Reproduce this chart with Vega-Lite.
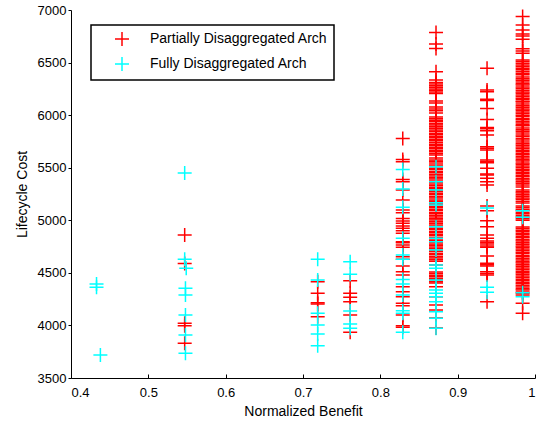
{
  "$schema": "https://vega.github.io/schema/vega-lite/v6.json",
  "width": 464,
  "height": 368,
  "autosize": "none",
  "padding": {"left": 71, "top": 10, "right": 9, "bottom": 43},
  "background": "white",
  "config": {
    "view": {"stroke": null},
    "font": "Liberation Sans",
    "legend": {"strokeWidth": 1.5},
    "axis": {
      "grid": false,
      "domainColor": "#000000",
      "domainWidth": 1,
      "tickColor": "#000000",
      "labelColor": "#000000",
      "titleColor": "#000000",
      "labelFont": "Liberation Sans",
      "titleFont": "Liberation Sans",
      "labelFontSize": 13,
      "titleFontSize": 14,
      "titleFontWeight": "normal"
    }
  },
  "layer": [
    {
      "data": {"values": [
        {"benefit": 0.547, "cost": 4860}, {"benefit": 0.547, "cost": 4590}, {"benefit": 0.547, "cost": 4020}, {"benefit": 0.547, "cost": 3998}, {"benefit": 0.547, "cost": 3830},
        {"benefit": 0.719, "cost": 4415}, {"benefit": 0.719, "cost": 4305}, {"benefit": 0.719, "cost": 4215}, {"benefit": 0.719, "cost": 4204}, {"benefit": 0.719, "cost": 4083},
        {"benefit": 0.761, "cost": 4425}, {"benefit": 0.761, "cost": 4305}, {"benefit": 0.761, "cost": 4267}, {"benefit": 0.761, "cost": 4226}, {"benefit": 0.761, "cost": 4099}, {"benefit": 0.761, "cost": 3934},
        {"benefit": 0.829, "cost": 5779}, {"benefit": 0.829, "cost": 5579}, {"benefit": 0.829, "cost": 5557}, {"benefit": 0.829, "cost": 5389}, {"benefit": 0.829, "cost": 5367}, {"benefit": 0.829, "cost": 5287}, {"benefit": 0.829, "cost": 5193}, {"benefit": 0.829, "cost": 5098}, {"benefit": 0.829, "cost": 5072}, {"benefit": 0.829, "cost": 5016}, {"benefit": 0.829, "cost": 4994}, {"benefit": 0.829, "cost": 4972}, {"benefit": 0.829, "cost": 4946}, {"benefit": 0.829, "cost": 4924}, {"benefit": 0.829, "cost": 4901}, {"benefit": 0.829, "cost": 4876}, {"benefit": 0.829, "cost": 4797}, {"benefit": 0.829, "cost": 4787}, {"benefit": 0.829, "cost": 4765}, {"benefit": 0.829, "cost": 4743}, {"benefit": 0.829, "cost": 4654}, {"benefit": 0.829, "cost": 4629}, {"benefit": 0.829, "cost": 4565}, {"benefit": 0.829, "cost": 4511}, {"benefit": 0.829, "cost": 4480}, {"benefit": 0.829, "cost": 4368}, {"benefit": 0.829, "cost": 4320}, {"benefit": 0.829, "cost": 4273}, {"benefit": 0.829, "cost": 4210}, {"benefit": 0.829, "cost": 4187}, {"benefit": 0.829, "cost": 4099}, {"benefit": 0.829, "cost": 3997}, {"benefit": 0.829, "cost": 3982},
        {"benefit": 0.872, "cost": 6787}, {"benefit": 0.872, "cost": 6676}, {"benefit": 0.872, "cost": 6635}, {"benefit": 0.872, "cost": 6413}, {"benefit": 0.872, "cost": 6334}, {"benefit": 0.872, "cost": 6311}, {"benefit": 0.872, "cost": 6296}, {"benefit": 0.872, "cost": 6279}, {"benefit": 0.872, "cost": 6266}, {"benefit": 0.872, "cost": 6248}, {"benefit": 0.872, "cost": 6236}, {"benefit": 0.872, "cost": 6219}, {"benefit": 0.872, "cost": 6207}, {"benefit": 0.872, "cost": 6134}, {"benefit": 0.872, "cost": 6115}, {"benefit": 0.872, "cost": 6077}, {"benefit": 0.872, "cost": 6058}, {"benefit": 0.872, "cost": 6041}, {"benefit": 0.872, "cost": 6020}, {"benefit": 0.872, "cost": 5983}, {"benefit": 0.872, "cost": 5966}, {"benefit": 0.872, "cost": 5951}, {"benefit": 0.872, "cost": 5937}, {"benefit": 0.872, "cost": 5919}, {"benefit": 0.872, "cost": 5906}, {"benefit": 0.872, "cost": 5889}, {"benefit": 0.872, "cost": 5876}, {"benefit": 0.872, "cost": 5858}, {"benefit": 0.872, "cost": 5846}, {"benefit": 0.872, "cost": 5828}, {"benefit": 0.872, "cost": 5816}, {"benefit": 0.872, "cost": 5799}, {"benefit": 0.872, "cost": 5786}, {"benefit": 0.872, "cost": 5768}, {"benefit": 0.872, "cost": 5756}, {"benefit": 0.872, "cost": 5739}, {"benefit": 0.872, "cost": 5724}, {"benefit": 0.872, "cost": 5712}, {"benefit": 0.872, "cost": 5694}, {"benefit": 0.872, "cost": 5681}, {"benefit": 0.872, "cost": 5663}, {"benefit": 0.872, "cost": 5651}, {"benefit": 0.872, "cost": 5636}, {"benefit": 0.872, "cost": 5622}, {"benefit": 0.872, "cost": 5593}, {"benefit": 0.872, "cost": 5574}, {"benefit": 0.872, "cost": 5561}, {"benefit": 0.872, "cost": 5545}, {"benefit": 0.872, "cost": 5526}, {"benefit": 0.872, "cost": 5512}, {"benefit": 0.872, "cost": 5495}, {"benefit": 0.872, "cost": 5482}, {"benefit": 0.872, "cost": 5464}, {"benefit": 0.872, "cost": 5452}, {"benefit": 0.872, "cost": 5435}, {"benefit": 0.872, "cost": 5422}, {"benefit": 0.872, "cost": 5405}, {"benefit": 0.872, "cost": 5392}, {"benefit": 0.872, "cost": 5374}, {"benefit": 0.872, "cost": 5362}, {"benefit": 0.872, "cost": 5345}, {"benefit": 0.872, "cost": 5332}, {"benefit": 0.872, "cost": 5314}, {"benefit": 0.872, "cost": 5302}, {"benefit": 0.872, "cost": 5285}, {"benefit": 0.872, "cost": 5272}, {"benefit": 0.872, "cost": 5254}, {"benefit": 0.872, "cost": 5242}, {"benefit": 0.872, "cost": 5225}, {"benefit": 0.872, "cost": 5212}, {"benefit": 0.872, "cost": 5194}, {"benefit": 0.872, "cost": 5182}, {"benefit": 0.872, "cost": 5165}, {"benefit": 0.872, "cost": 5152}, {"benefit": 0.872, "cost": 5134}, {"benefit": 0.872, "cost": 5122}, {"benefit": 0.872, "cost": 5105}, {"benefit": 0.872, "cost": 5092}, {"benefit": 0.872, "cost": 5074}, {"benefit": 0.872, "cost": 5062}, {"benefit": 0.872, "cost": 5045}, {"benefit": 0.872, "cost": 5032}, {"benefit": 0.872, "cost": 5014}, {"benefit": 0.872, "cost": 5002}, {"benefit": 0.872, "cost": 4985}, {"benefit": 0.872, "cost": 4972}, {"benefit": 0.872, "cost": 4954}, {"benefit": 0.872, "cost": 4942}, {"benefit": 0.872, "cost": 4925}, {"benefit": 0.872, "cost": 4912}, {"benefit": 0.872, "cost": 4894}, {"benefit": 0.872, "cost": 4882}, {"benefit": 0.872, "cost": 4865}, {"benefit": 0.872, "cost": 4852}, {"benefit": 0.872, "cost": 4834}, {"benefit": 0.872, "cost": 4822}, {"benefit": 0.872, "cost": 4805}, {"benefit": 0.872, "cost": 4792}, {"benefit": 0.872, "cost": 4774}, {"benefit": 0.872, "cost": 4762}, {"benefit": 0.872, "cost": 4745}, {"benefit": 0.872, "cost": 4732}, {"benefit": 0.872, "cost": 4714}, {"benefit": 0.872, "cost": 4702}, {"benefit": 0.872, "cost": 4685}, {"benefit": 0.872, "cost": 4672}, {"benefit": 0.872, "cost": 4654}, {"benefit": 0.872, "cost": 4642}, {"benefit": 0.872, "cost": 4625}, {"benefit": 0.872, "cost": 4610}, {"benefit": 0.872, "cost": 4575}, {"benefit": 0.872, "cost": 4508}, {"benefit": 0.872, "cost": 4494}, {"benefit": 0.872, "cost": 4477}, {"benefit": 0.872, "cost": 4464}, {"benefit": 0.872, "cost": 4447}, {"benefit": 0.872, "cost": 4434}, {"benefit": 0.872, "cost": 4416}, {"benefit": 0.872, "cost": 4403}, {"benefit": 0.872, "cost": 4368}, {"benefit": 0.872, "cost": 4273}, {"benefit": 0.872, "cost": 4194}, {"benefit": 0.872, "cost": 4146}, {"benefit": 0.872, "cost": 4070}, {"benefit": 0.872, "cost": 3975},
        {"benefit": 0.938, "cost": 6446}, {"benefit": 0.938, "cost": 6238}, {"benefit": 0.938, "cost": 6222}, {"benefit": 0.938, "cost": 6152}, {"benefit": 0.938, "cost": 6140}, {"benefit": 0.938, "cost": 6063}, {"benefit": 0.938, "cost": 5959}, {"benefit": 0.938, "cost": 5883}, {"benefit": 0.938, "cost": 5870}, {"benefit": 0.938, "cost": 5852}, {"benefit": 0.938, "cost": 5811}, {"benefit": 0.938, "cost": 5700}, {"benefit": 0.938, "cost": 5685}, {"benefit": 0.938, "cost": 5669}, {"benefit": 0.938, "cost": 5574}, {"benefit": 0.938, "cost": 5560}, {"benefit": 0.938, "cost": 5548}, {"benefit": 0.938, "cost": 5494}, {"benefit": 0.938, "cost": 5440}, {"benefit": 0.938, "cost": 5431}, {"benefit": 0.938, "cost": 5399}, {"benefit": 0.938, "cost": 5367}, {"benefit": 0.938, "cost": 5336}, {"benefit": 0.938, "cost": 5136}, {"benefit": 0.938, "cost": 5091}, {"benefit": 0.938, "cost": 4996}, {"benefit": 0.938, "cost": 4939}, {"benefit": 0.938, "cost": 4860}, {"benefit": 0.938, "cost": 4829}, {"benefit": 0.938, "cost": 4803}, {"benefit": 0.938, "cost": 4788}, {"benefit": 0.938, "cost": 4774}, {"benefit": 0.938, "cost": 4756}, {"benefit": 0.938, "cost": 4743}, {"benefit": 0.938, "cost": 4660}, {"benefit": 0.938, "cost": 4591}, {"benefit": 0.938, "cost": 4578}, {"benefit": 0.938, "cost": 4565}, {"benefit": 0.938, "cost": 4511}, {"benefit": 0.938, "cost": 4495}, {"benefit": 0.938, "cost": 4480}, {"benefit": 0.938, "cost": 4226},
        {"benefit": 0.984, "cost": 6937}, {"benefit": 0.984, "cost": 6857}, {"benefit": 0.984, "cost": 6810}, {"benefit": 0.984, "cost": 6772}, {"benefit": 0.984, "cost": 6753}, {"benefit": 0.984, "cost": 6722}, {"benefit": 0.984, "cost": 6632}, {"benefit": 0.984, "cost": 6610}, {"benefit": 0.984, "cost": 6588}, {"benefit": 0.984, "cost": 6525}, {"benefit": 0.984, "cost": 6511}, {"benefit": 0.984, "cost": 6494}, {"benefit": 0.984, "cost": 6478}, {"benefit": 0.984, "cost": 6463}, {"benefit": 0.984, "cost": 6446}, {"benefit": 0.984, "cost": 6431}, {"benefit": 0.984, "cost": 6414}, {"benefit": 0.984, "cost": 6399}, {"benefit": 0.984, "cost": 6384}, {"benefit": 0.984, "cost": 6362}, {"benefit": 0.984, "cost": 6347}, {"benefit": 0.984, "cost": 6331}, {"benefit": 0.984, "cost": 6316}, {"benefit": 0.984, "cost": 6299}, {"benefit": 0.984, "cost": 6286}, {"benefit": 0.984, "cost": 6267}, {"benefit": 0.984, "cost": 6253}, {"benefit": 0.984, "cost": 6236}, {"benefit": 0.984, "cost": 6221}, {"benefit": 0.984, "cost": 6208}, {"benefit": 0.984, "cost": 6191}, {"benefit": 0.984, "cost": 6178}, {"benefit": 0.984, "cost": 6161}, {"benefit": 0.984, "cost": 6148}, {"benefit": 0.984, "cost": 6132}, {"benefit": 0.984, "cost": 6124}, {"benefit": 0.984, "cost": 6105}, {"benefit": 0.984, "cost": 6089}, {"benefit": 0.984, "cost": 6076}, {"benefit": 0.984, "cost": 6059}, {"benefit": 0.984, "cost": 6046}, {"benefit": 0.984, "cost": 6029}, {"benefit": 0.984, "cost": 6016}, {"benefit": 0.984, "cost": 5999}, {"benefit": 0.984, "cost": 5986}, {"benefit": 0.984, "cost": 5969}, {"benefit": 0.984, "cost": 5956}, {"benefit": 0.984, "cost": 5939}, {"benefit": 0.984, "cost": 5926}, {"benefit": 0.984, "cost": 5909}, {"benefit": 0.984, "cost": 5898}, {"benefit": 0.984, "cost": 5878}, {"benefit": 0.984, "cost": 5861}, {"benefit": 0.984, "cost": 5847}, {"benefit": 0.984, "cost": 5830}, {"benefit": 0.984, "cost": 5811}, {"benefit": 0.984, "cost": 5797}, {"benefit": 0.984, "cost": 5779}, {"benefit": 0.984, "cost": 5764}, {"benefit": 0.984, "cost": 5745}, {"benefit": 0.984, "cost": 5727}, {"benefit": 0.984, "cost": 5713}, {"benefit": 0.984, "cost": 5696}, {"benefit": 0.984, "cost": 5683}, {"benefit": 0.984, "cost": 5666}, {"benefit": 0.984, "cost": 5653}, {"benefit": 0.984, "cost": 5636}, {"benefit": 0.984, "cost": 5623}, {"benefit": 0.984, "cost": 5606}, {"benefit": 0.984, "cost": 5593}, {"benefit": 0.984, "cost": 5576}, {"benefit": 0.984, "cost": 5563}, {"benefit": 0.984, "cost": 5546}, {"benefit": 0.984, "cost": 5533}, {"benefit": 0.984, "cost": 5516}, {"benefit": 0.984, "cost": 5503}, {"benefit": 0.984, "cost": 5486}, {"benefit": 0.984, "cost": 5473}, {"benefit": 0.984, "cost": 5456}, {"benefit": 0.984, "cost": 5443}, {"benefit": 0.984, "cost": 5426}, {"benefit": 0.984, "cost": 5413}, {"benefit": 0.984, "cost": 5396}, {"benefit": 0.984, "cost": 5383}, {"benefit": 0.984, "cost": 5366}, {"benefit": 0.984, "cost": 5353}, {"benefit": 0.984, "cost": 5336}, {"benefit": 0.984, "cost": 5317}, {"benefit": 0.984, "cost": 5288}, {"benefit": 0.984, "cost": 5272}, {"benefit": 0.984, "cost": 5259}, {"benefit": 0.984, "cost": 5242}, {"benefit": 0.984, "cost": 5229}, {"benefit": 0.984, "cost": 5212}, {"benefit": 0.984, "cost": 5199}, {"benefit": 0.984, "cost": 5182}, {"benefit": 0.984, "cost": 5164}, {"benefit": 0.984, "cost": 5136}, {"benefit": 0.984, "cost": 5122}, {"benefit": 0.984, "cost": 5105}, {"benefit": 0.984, "cost": 5092}, {"benefit": 0.984, "cost": 5075}, {"benefit": 0.984, "cost": 5062}, {"benefit": 0.984, "cost": 5045}, {"benefit": 0.984, "cost": 5032}, {"benefit": 0.984, "cost": 5015}, {"benefit": 0.984, "cost": 5000}, {"benefit": 0.984, "cost": 4937}, {"benefit": 0.984, "cost": 4923}, {"benefit": 0.984, "cost": 4906}, {"benefit": 0.984, "cost": 4893}, {"benefit": 0.984, "cost": 4876}, {"benefit": 0.984, "cost": 4863}, {"benefit": 0.984, "cost": 4846}, {"benefit": 0.984, "cost": 4833}, {"benefit": 0.984, "cost": 4816}, {"benefit": 0.984, "cost": 4803}, {"benefit": 0.984, "cost": 4786}, {"benefit": 0.984, "cost": 4773}, {"benefit": 0.984, "cost": 4756}, {"benefit": 0.984, "cost": 4743}, {"benefit": 0.984, "cost": 4726}, {"benefit": 0.984, "cost": 4713}, {"benefit": 0.984, "cost": 4696}, {"benefit": 0.984, "cost": 4683}, {"benefit": 0.984, "cost": 4666}, {"benefit": 0.984, "cost": 4653}, {"benefit": 0.984, "cost": 4636}, {"benefit": 0.984, "cost": 4623}, {"benefit": 0.984, "cost": 4606}, {"benefit": 0.984, "cost": 4593}, {"benefit": 0.984, "cost": 4576}, {"benefit": 0.984, "cost": 4563}, {"benefit": 0.984, "cost": 4546}, {"benefit": 0.984, "cost": 4533}, {"benefit": 0.984, "cost": 4516}, {"benefit": 0.984, "cost": 4500}, {"benefit": 0.984, "cost": 4486}, {"benefit": 0.984, "cost": 4469}, {"benefit": 0.984, "cost": 4456}, {"benefit": 0.984, "cost": 4439}, {"benefit": 0.984, "cost": 4426}, {"benefit": 0.984, "cost": 4409}, {"benefit": 0.984, "cost": 4396}, {"benefit": 0.984, "cost": 4379}, {"benefit": 0.984, "cost": 4366}, {"benefit": 0.984, "cost": 4349}, {"benefit": 0.984, "cost": 4336}, {"benefit": 0.984, "cost": 4319}, {"benefit": 0.984, "cost": 4306}, {"benefit": 0.984, "cost": 4290}, {"benefit": 0.984, "cost": 4210}, {"benefit": 0.984, "cost": 4115}
      ]},
      "mark": {"type": "point", "shape": "M-1,0L1,0M0,-1L0,1", "filled": false, "size": 196, "strokeWidth": 1.5, "opacity": 1},
      "encoding": {
        "x": {"field": "benefit", "type": "quantitative", "scale": {"domain": [0.4, 1], "nice": false, "zero": false},
              "axis": {"title": "Normalized Benefit", "values": [0.4, 0.5, 0.6, 0.7, 0.8, 0.9, 1], "format": "~g", "tickSize": -4, "labelPadding": 12, "titlePadding": 5}},
        "y": {"field": "cost", "type": "quantitative", "scale": {"domain": [3500, 7000], "nice": false, "zero": false},
              "axis": {"title": "Lifecycle Cost", "values": [3500, 4000, 4500, 5000, 5500, 6000, 6500, 7000], "format": "d", "tickSize": 3, "labelPadding": 2, "titlePadding": 8}},
        "color": {
          "datum": "Partially Disaggregated Arch",
          "scale": {"domain": ["Partially Disaggregated Arch", "Fully Disaggregated Arch"], "range": ["#ff0000", "#00ffff"]},
          "legend": {
            "title": null, "orient": "none", "legendX": 20, "legendY": 15,
            "strokeColor": "#000000", "fillColor": "#ffffff", "padding": 6,
            "symbolType": "M-1,0L1,0M0,-1L0,1", "symbolSize": 196, "symbolStrokeWidth": 1.5,
            "symbolOffset": 17, "labelOffset": 20, "labelFontSize": 14, "labelFont": "Liberation Sans",
            "labelColor": "#000000", "rowPadding": 5, "labelLimit": 300
          }
        }
      }
    },
    {
      "data": {"values": [
        {"benefit": 0.433, "cost": 4394}, {"benefit": 0.433, "cost": 4362}, {"benefit": 0.438, "cost": 3719},
        {"benefit": 0.547, "cost": 5450}, {"benefit": 0.547, "cost": 4629}, {"benefit": 0.549, "cost": 4543}, {"benefit": 0.548, "cost": 4353}, {"benefit": 0.548, "cost": 4289}, {"benefit": 0.548, "cost": 4099}, {"benefit": 0.548, "cost": 3909}, {"benefit": 0.548, "cost": 3735},
        {"benefit": 0.719, "cost": 4629}, {"benefit": 0.719, "cost": 4432}, {"benefit": 0.719, "cost": 4115}, {"benefit": 0.719, "cost": 4004}, {"benefit": 0.719, "cost": 3918}, {"benefit": 0.719, "cost": 3807},
        {"benefit": 0.761, "cost": 4606}, {"benefit": 0.761, "cost": 4486}, {"benefit": 0.761, "cost": 4137}, {"benefit": 0.761, "cost": 4013}, {"benefit": 0.761, "cost": 3972},
        {"benefit": 0.829, "cost": 5484}, {"benefit": 0.829, "cost": 5297}, {"benefit": 0.829, "cost": 5123}, {"benefit": 0.829, "cost": 4829}, {"benefit": 0.829, "cost": 4670}, {"benefit": 0.829, "cost": 4629}, {"benefit": 0.829, "cost": 4438}, {"benefit": 0.829, "cost": 4394}, {"benefit": 0.829, "cost": 4289}, {"benefit": 0.829, "cost": 4140}, {"benefit": 0.829, "cost": 4115}, {"benefit": 0.829, "cost": 3934},
        {"benefit": 0.872, "cost": 5510}, {"benefit": 0.872, "cost": 5367}, {"benefit": 0.872, "cost": 5288}, {"benefit": 0.872, "cost": 5167}, {"benefit": 0.872, "cost": 5145}, {"benefit": 0.872, "cost": 4939}, {"benefit": 0.872, "cost": 4829}, {"benefit": 0.872, "cost": 4797}, {"benefit": 0.872, "cost": 4717}, {"benefit": 0.872, "cost": 4575}, {"benefit": 0.872, "cost": 4543}, {"benefit": 0.872, "cost": 4432}, {"benefit": 0.872, "cost": 4337}, {"benefit": 0.872, "cost": 4305}, {"benefit": 0.872, "cost": 4273}, {"benefit": 0.872, "cost": 4226}, {"benefit": 0.872, "cost": 4130}, {"benefit": 0.872, "cost": 4068}, {"benefit": 0.872, "cost": 3972},
        {"benefit": 0.938, "cost": 5118}, {"benefit": 0.938, "cost": 4362}, {"benefit": 0.938, "cost": 4315},
        {"benefit": 0.984, "cost": 5091}, {"benefit": 0.984, "cost": 5028}, {"benefit": 0.984, "cost": 4311}, {"benefit": 0.984, "cost": 4273}
      ]},
      "mark": {"type": "point", "shape": "M-1,0L1,0M0,-1L0,1", "filled": false, "size": 196, "strokeWidth": 1.5, "opacity": 1},
      "encoding": {
        "x": {"field": "benefit", "type": "quantitative"},
        "y": {"field": "cost", "type": "quantitative"},
        "color": {"datum": "Fully Disaggregated Arch"}
      }
    }
  ]
}
